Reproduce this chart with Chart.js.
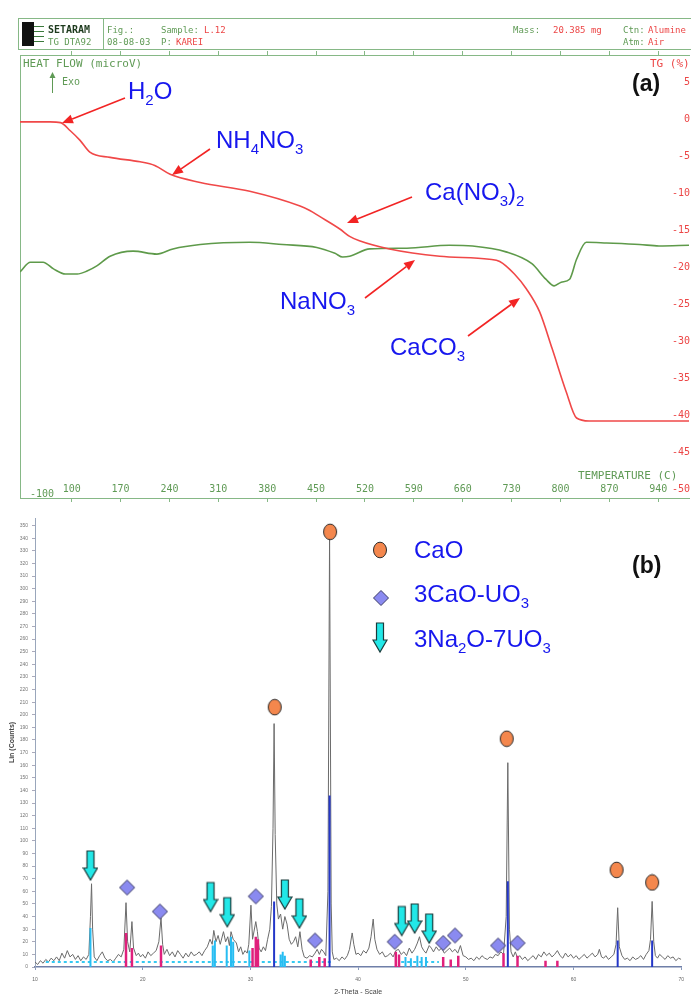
<!DOCTYPE html>
<html>
<head>
<meta charset="utf-8">
<script src="https://cdn.jsdelivr.net/npm/chart.js@4.4.0/dist/chart.umd.min.js"></script>
<style>
html, body { margin: 0; padding: 0; background: #fff; }
#wrap { position: relative; width: 691px; height: 996px; overflow: hidden; background: #fff; }
canvas { position: absolute; left: 0; }
#tga { top: 0; }
#xrd { top: 505px; }
</style>
</head>
<body>
<div id="wrap">
  <canvas id="tga" width="691" height="505" style="width:691px;height:505px"></canvas>
  <canvas id="xrd" width="691" height="491" style="width:691px;height:491px"></canvas>
</div>
<script>
// ---- (a) TG / DTA ----
const tempTicks = [100, 170, 240, 310, 380, 450, 520, 590, 660, 730, 800, 870, 940];
const tgTicks = [5, 0, -5, -10, -15, -20, -25, -30, -35, -40, -45, -50];

const tgTemp = [26, 69, 84, 98, 112, 126, 155, 198, 219, 241, 284, 355, 427, 441, 455, 484, 498, 512, 555, 627, 698, 713, 734, 751, 770, 788, 808, 823, 841, 900, 985];
const tgLoss = [-0.3, -0.3, -0.4, -1.5, -2.8, -4.4, -5.1, -5.7, -6.2, -7.4, -8.5, -9.7, -11.7, -12.3, -13.1, -14.8, -15.8, -16.4, -17.5, -18.5, -18.9, -19.2, -20.9, -22.9, -26.0, -31.0, -36.8, -40.4, -40.8, -40.8, -40.8];

// heat flow has no numbered axis, values are in the TG-axis units of the plot
const hfTemp = [26, 41, 59, 74, 91, 108, 122, 136, 155, 188, 222, 245, 284, 355, 402, 451, 477, 488, 498, 527, 580, 641, 674, 722, 759, 779, 791, 801, 813, 823, 837, 866, 913, 941, 984];
const hfSignal = [-20.6, -19.3, -19.3, -20.2, -20.9, -20.9, -20.5, -19.8, -18.5, -17.8, -18.2, -17.5, -16.9, -16.6, -16.9, -17.3, -18.1, -18.6, -18.5, -17.5, -17.4, -17.0, -17.1, -17.9, -19.5, -21.6, -22.5, -22.0, -21.6, -18.9, -16.6, -16.7, -16.9, -17.1, -17.0];

// ---- (b) XRD ----
const xrdScan = [
  [10.0,4],[10.25,2],[10.5,5],[10.75,3],[11.0,6],[11.25,4],[11.5,7],[11.75,5],[12.0,8],[12.25,5],
  [12.5,11],[12.75,7],[13.0,13],[13.25,8],[13.5,10],[13.75,6],[14.0,9],[14.25,5],[14.5,8],[14.75,6],
  [15.0,10],[15.15,40],[15.25,66],[15.35,30],[15.5,8],[15.75,5],[16.0,9],[16.25,12],[16.5,7],[16.75,5],
  [17.0,6],[17.25,4],[17.5,7],[17.75,10],[18.0,8],[18.25,14],[18.45,51],[18.6,20],[18.8,12],[19.0,36],
  [19.15,15],[19.4,9],[19.6,11],[19.8,8],[20.0,10],[20.25,7],[20.5,12],[20.75,9],[21.0,11],[21.25,13],
  [21.5,20],[21.7,39],[21.85,18],[22.0,10],[22.25,14],[22.5,9],[22.75,12],[23.0,8],[23.25,13],[23.5,10],
  [23.75,7],[24.0,11],[24.25,8],[24.5,12],[24.75,9],[25.0,10],[25.25,12],[25.5,9],[25.75,13],[26.0,16],
  [26.25,22],[26.45,18],[26.6,29],[26.8,20],[27.0,25],[27.2,18],[27.5,28],[27.7,20],[27.9,24],[28.05,17],
  [28.2,28],[28.4,22],[28.7,19],[28.9,12],[29.1,16],[29.3,10],[29.5,13],[29.7,11],[29.85,18],[30.05,49],
  [30.2,22],[30.5,36],[30.65,28],[30.8,15],[31.0,12],[31.2,16],[31.4,13],[31.6,22],[31.8,30],[31.95,48],
  [32.1,110],[32.2,193],[32.3,105],[32.45,50],[32.6,38],[32.8,42],[33.0,30],[33.2,40],[33.4,34],[33.6,22],
  [33.8,18],[34.0,20],[34.2,24],[34.4,16],[34.6,28],[34.8,14],[35.0,8],[35.25,7],[35.5,9],[35.75,8],
  [36.0,11],[36.2,14],[36.4,10],[36.6,14],[36.8,12],[37.0,9],[37.2,60],[37.35,342],[37.5,50],[37.6,12],
  [37.75,6],[38.0,7],[38.25,5],[38.5,8],[38.75,6],[39.0,9],[39.2,14],[39.45,27],[39.6,18],[39.8,10],
  [40.0,11],[40.25,9],[40.5,13],[40.75,11],[41.0,15],[41.2,24],[41.4,38],[41.55,22],[41.75,14],[42.0,10],
  [42.25,12],[42.5,8],[42.75,9],[43.0,11],[43.25,8],[43.5,13],[43.75,14],[44.0,10],[44.25,12],[44.5,9],
  [44.75,15],[45.0,11],[45.25,14],[45.5,19],[45.7,24],[45.9,16],[46.1,13],[46.3,11],[46.6,17],[46.8,15],
  [47.0,12],[47.25,16],[47.5,13],[47.75,15],[48.0,11],[48.25,13],[48.5,15],[48.75,12],[49.0,14],[49.25,11],
  [49.5,17],[49.75,9],[50.0,8],[50.25,6],[50.5,7],[50.75,5],[51.0,8],[51.25,6],[51.5,9],[51.75,7],
  [52.0,6],[52.25,8],[52.5,7],[52.75,10],[53.0,9],[53.25,12],[53.5,10],[53.75,40],[53.9,162],[54.05,30],
  [54.2,12],[54.4,8],[54.6,12],[54.8,7],[55.0,9],[55.25,6],[55.5,8],[55.75,5],[56.0,7],[56.25,9],
  [56.5,6],[56.75,10],[57.0,8],[57.25,12],[57.5,9],[57.75,11],[58.0,8],[58.25,10],[58.5,13],[58.75,9],
  [59.0,7],[59.25,11],[59.5,8],[59.75,10],[60.0,7],[60.25,9],[60.5,6],[60.75,8],[61.0,10],[61.25,7],
  [61.5,9],[61.75,11],[62.0,8],[62.25,10],[62.4,14],[62.6,8],[62.8,7],[63.0,9],[63.25,6],[63.5,8],
  [63.75,10],[63.95,18],[64.1,47],[64.25,16],[64.5,9],[64.75,6],[65.0,7],[65.25,5],[65.5,8],[65.75,6],
  [66.0,7],[66.25,9],[66.5,6],[66.75,10],[67.0,13],[67.15,22],[67.3,52],[67.45,20],[67.6,9],[67.8,7],
  [68.0,10],[68.25,8],[68.5,6],[68.75,9],[69.0,7],[69.25,8],[69.5,5],[69.75,7],[70.0,6]
];

// reference stick patterns
const caoStickAngle = [32.2, 37.35, 53.9, 64.1, 67.3];
const caoStickCounts = [52, 136, 68, 21, 21];
const cauStickAngle = [18.45, 19.0, 21.7, 30.2, 30.5, 30.7, 35.6, 36.4, 36.9, 43.5, 43.8, 47.9, 48.6, 49.3, 53.5, 54.8, 57.4, 58.5];
const cauStickCounts = [27, 15, 17, 15, 24, 22, 6, 8, 7, 12, 10, 8, 6, 9, 11, 9, 5, 5];
const nauStickAngle = [15.15, 26.5, 26.7, 27.8, 28.2, 28.4, 29.9, 32.8, 33.0, 33.2, 44.4, 44.9, 45.5, 45.9, 46.3];
const nauStickCounts = [31, 17, 21, 17, 24, 20, 13, 10, 12, 9, 8, 7, 9, 8, 8];
const nauBaseFrom = [11, 44];
const nauBaseTo = [37.5, 47.5];
const nauBaseLevel = 4;

// phase markers
const caoMarkAngle = [32.26, 37.4, 53.8, 64.0, 67.3];
const caoMarkCounts = [206, 345, 181, 77, 67];
const cauMarkAngle = [18.55, 21.6, 30.5, 36.0, 43.4, 47.9, 49.0, 53.0, 54.8];
const cauMarkCounts = [63, 44, 56, 21, 20, 19, 25, 17, 19];
const nauMarkAngle = [15.15, 26.3, 27.85, 33.2, 34.55, 44.05, 45.25, 46.6];
const nauMarkCounts = [69, 44, 32, 46, 31, 25, 27, 19];

const GREEN = '#5f9a55';
const GREEN_LINE = '#86b886';
const RED_TXT = '#ec4646';
const MONO = '"DejaVu Sans Mono", "Liberation Mono", monospace';
const SANS = '"Liberation Sans", Arial, sans-serif';
const BLUE_TXT = '#1717ee';

function pairs(xs, ys) { return xs.map((x, i) => ({ x: x, y: ys[i] })); }

function sticks(xs, ys) {
    const out = [];
    xs.forEach((x, i) => { out.push({ x: x, y: 0 }, { x: x, y: ys[i] }, { x: x, y: null }); });
    return out;
}

// marker images
function makeOval() {
    const c = document.createElement('canvas'); c.width = 16; c.height = 18;
    const g = c.getContext('2d');
    g.beginPath(); g.ellipse(8, 9, 6.5, 7.8, 0, 0, Math.PI * 2);
    g.fillStyle = '#f4874d'; g.fill();
    g.lineWidth = 1; g.strokeStyle = '#2a2a2a'; g.stroke();
    return c;
}
function makeDiamond() {
    const c = document.createElement('canvas'); c.width = 18; c.height = 18;
    const g = c.getContext('2d');
    g.beginPath(); g.moveTo(9, 1.5); g.lineTo(16.5, 9); g.lineTo(9, 16.5); g.lineTo(1.5, 9); g.closePath();
    g.fillStyle = '#8a8af0'; g.fill();
    g.lineWidth = 1; g.strokeStyle = '#3a3a66'; g.stroke();
    return c;
}
function makeDownArrow() {
    // tip sits at the canvas centre so the data point is the arrow tip
    const c = document.createElement('canvas'); c.width = 16; c.height = 62;
    const g = c.getContext('2d');
    g.beginPath();
    g.moveTo(4.5, 2); g.lineTo(11.5, 2); g.lineTo(11.5, 19); g.lineTo(15, 19);
    g.lineTo(8, 31); g.lineTo(1, 19); g.lineTo(4.5, 19); g.closePath();
    g.fillStyle = '#22e8e8'; g.fill();
    g.lineWidth = 1.2; g.strokeStyle = '#1b3b3b'; g.stroke();
    return c;
}
const ovalImg = makeOval();
const diamondImg = makeDiamond();
const arrowImg = makeDownArrow();

function drawChem(ctx, x, y, text, size, color) {
    let cx = x;
    ctx.fillStyle = color;
    ctx.textAlign = 'left';
    ctx.textBaseline = 'alphabetic';
    text.split('|').forEach(p => {
        const sub = p.startsWith('_');
        const t = sub ? p.slice(1) : p;
        ctx.font = (sub ? Math.round(size * 0.62) : size) + 'px ' + SANS;
        ctx.fillText(t, cx, sub ? y + size * 0.24 : y);
        cx += ctx.measureText(t).width;
    });
}

function redArrow(ctx, x1, y1, x2, y2) {
    const a = Math.atan2(y2 - y1, x2 - x1), hl = 11, hw = 4.5;
    const bx = x2 - hl * Math.cos(a), by = y2 - hl * Math.sin(a);
    ctx.strokeStyle = '#f22424'; ctx.fillStyle = '#f22424'; ctx.lineWidth = 1.6;
    ctx.beginPath(); ctx.moveTo(x1, y1); ctx.lineTo(bx, by); ctx.stroke();
    ctx.beginPath(); ctx.moveTo(x2, y2);
    ctx.lineTo(bx + hw * Math.sin(a), by - hw * Math.cos(a));
    ctx.lineTo(bx - hw * Math.sin(a), by + hw * Math.cos(a));
    ctx.closePath(); ctx.fill();
}

function monoText(ctx, t, x, y, color, size, align) {
    ctx.font = size + 'px ' + MONO;
    ctx.fillStyle = color;
    ctx.textAlign = align || 'left';
    ctx.textBaseline = 'alphabetic';
    ctx.fillText(t, x, y);
}

// texts and header of the instrument plot
const decorA = {
    id: 'decorA',
    afterDraw(chart) {
        const ctx = chart.ctx;
        const xs = chart.scales.x;
        ctx.save();

        // header box
        ctx.strokeStyle = GREEN_LINE; ctx.lineWidth = 1;
        ctx.strokeRect(18.5, 18.5, 690, 31);
        ctx.beginPath(); ctx.moveTo(103.5, 18); ctx.lineTo(103.5, 50); ctx.stroke();
        ctx.fillStyle = '#111';
        ctx.fillRect(22, 22, 12, 24);
        ctx.strokeStyle = '#3c7a3c';
        [26, 31, 36, 41].forEach(y => { ctx.beginPath(); ctx.moveTo(34, y + 0.5); ctx.lineTo(44, y + 0.5); ctx.stroke(); });

        ctx.font = 'bold 10px ' + MONO; ctx.fillStyle = '#1d3a1d'; ctx.textAlign = 'left';
        ctx.fillText('SETARAM', 48, 33);
        monoText(ctx, 'TG DTA92', 48, 45, GREEN, 9);
        monoText(ctx, 'Fig.:', 107, 33, GREEN, 9);
        monoText(ctx, '08-08-03', 107, 45, GREEN, 9);
        monoText(ctx, 'Sample:', 161, 33, GREEN, 9);
        monoText(ctx, 'L.12', 204, 33, RED_TXT, 9);
        monoText(ctx, 'P:', 161, 45, GREEN, 9);
        monoText(ctx, 'KAREI', 176, 45, RED_TXT, 9);
        monoText(ctx, 'Mass:', 513, 33, GREEN, 9);
        monoText(ctx, '20.385 mg', 553, 33, RED_TXT, 9);
        monoText(ctx, 'Ctn:', 623, 33, GREEN, 9);
        monoText(ctx, 'Alumine', 648, 33, RED_TXT, 9);
        monoText(ctx, 'Atm:', 623, 45, GREEN, 9);
        monoText(ctx, 'Air', 648, 45, RED_TXT, 9);

        // axis captions
        monoText(ctx, 'HEAT FLOW (microV)', 23, 67, GREEN, 11);
        monoText(ctx, 'TG (%)', 650, 67, RED_TXT, 11);
        monoText(ctx, 'Exo', 62, 85, GREEN, 10);
        ctx.strokeStyle = GREEN; ctx.fillStyle = GREEN; ctx.lineWidth = 1;
        ctx.beginPath(); ctx.moveTo(52.5, 93); ctx.lineTo(52.5, 74); ctx.stroke();
        ctx.beginPath(); ctx.moveTo(52.5, 72); ctx.lineTo(49.5, 78); ctx.lineTo(55.5, 78); ctx.closePath(); ctx.fill();
        monoText(ctx, 'TEMPERATURE (C)', 578, 479, GREEN, 11);

        // temperature tick labels sit inside the frame
        tempTicks.forEach(t => monoText(ctx, String(t), xs.getPixelForValue(t), 492, GREEN, 10, 'center'));
        monoText(ctx, '-100', 42, 497, GREEN, 10, 'center');

        // species annotations
        drawChem(ctx, 128, 99, 'H|_2|O', 24, BLUE_TXT);
        drawChem(ctx, 216, 148, 'NH|_4|NO|_3', 24, BLUE_TXT);
        drawChem(ctx, 425, 200, 'Ca(NO|_3|)|_2', 24, BLUE_TXT);
        drawChem(ctx, 280, 309, 'NaNO|_3', 24, BLUE_TXT);
        drawChem(ctx, 390, 355, 'CaCO|_3', 24, BLUE_TXT);
        redArrow(ctx, 125, 98, 62, 123);
        redArrow(ctx, 210, 149, 172, 175);
        redArrow(ctx, 412, 197, 347, 223);
        redArrow(ctx, 365, 298, 415, 260);
        redArrow(ctx, 468, 336, 520, 298);

        ctx.font = 'bold 23px ' + SANS; ctx.fillStyle = '#111'; ctx.textAlign = 'left';
        ctx.fillText('(a)', 632, 91);
        ctx.restore();
    }
};

const tickSetter = s => { s.ticks = tempTicks.map(v => ({ value: v })); };

new Chart(document.getElementById('tga'), {
    type: 'line',
    data: {
        datasets: [
            { label: 'TG', data: pairs(tgTemp, tgLoss), yAxisID: 'yTG', borderColor: '#f04848', borderWidth: 1.6, pointRadius: 0, cubicInterpolationMode: 'monotone' },
            { label: 'Heat flow', data: pairs(hfTemp, hfSignal), yAxisID: 'yHF', borderColor: '#5e9a4a', borderWidth: 1.6, pointRadius: 0, cubicInterpolationMode: 'monotone' }
        ]
    },
    options: {
        responsive: false,
        animation: false,
        devicePixelRatio: 1,
        layout: { padding: { top: 51, left: 20, right: 0, bottom: 1 } },
        plugins: { legend: { display: false }, tooltip: { enabled: false } },
        scales: {
            x: {
                type: 'linear', min: 26, max: 984, afterBuildTicks: tickSetter,
                ticks: { display: false },
                grid: { drawOnChartArea: false, tickLength: 4, color: GREEN_LINE },
                border: { color: GREEN_LINE }
            },
            xTop: {
                type: 'linear', position: 'top', min: 26, max: 984, afterBuildTicks: tickSetter,
                ticks: { display: false },
                grid: { drawOnChartArea: false, tickLength: 4, color: GREEN_LINE },
                border: { color: GREEN_LINE }
            },
            yHF: {
                position: 'left', min: -51.23, max: 8.76,
                ticks: { display: false },
                grid: { drawOnChartArea: false, drawTicks: false },
                border: { color: GREEN_LINE }
            },
            yTG: {
                position: 'right', min: -51.23, max: 8.76,
                afterBuildTicks: s => { s.ticks = tgTicks.map(v => ({ value: v })); },
                ticks: { mirror: true, padding: 1, color: RED_TXT, font: { family: MONO, size: 10 } },
                grid: { display: false, drawTicks: false },
                border: { display: false }
            }
        }
    },
    plugins: [decorA]
});

// legend and panel letter of the XRD plot
const decorB = {
    id: 'decorB',
    afterDraw(chart) {
        const ctx = chart.ctx;
        ctx.save();
        ctx.drawImage(ovalImg, 380 - 8, 45 - 9);
        ctx.drawImage(diamondImg, 381 - 9, 93 - 9);
        ctx.drawImage(arrowImg, 380 - 8, 147 - 31);
        drawChem(ctx, 414, 53, 'CaO', 24, BLUE_TXT);
        drawChem(ctx, 414, 97, '3CaO-UO|_3', 24, BLUE_TXT);
        drawChem(ctx, 414, 142, '3Na|_2|O-7UO|_3', 24, BLUE_TXT);
        ctx.font = 'bold 23px ' + SANS; ctx.fillStyle = '#111'; ctx.textAlign = 'left';
        ctx.fillText('(b)', 632, 68);
        ctx.restore();
    }
};

const xrdData = xrdScan.map(p => ({ x: p[0], y: p[1] }));
const nauBase = [];
nauBaseFrom.forEach((f, i) => { nauBase.push({ x: f, y: nauBaseLevel }, { x: nauBaseTo[i], y: nauBaseLevel }, { x: nauBaseTo[i], y: null }); });

new Chart(document.getElementById('xrd'), {
    type: 'line',
    data: {
        datasets: [
            { label: 'CaO', data: pairs(caoMarkAngle, caoMarkCounts), showLine: false, pointStyle: ovalImg, pointRadius: 6, order: 0 },
            { label: '3CaO-UO3', data: pairs(cauMarkAngle, cauMarkCounts), showLine: false, pointStyle: diamondImg, pointRadius: 6, order: 0 },
            { label: '3Na2O-7UO3', data: pairs(nauMarkAngle, nauMarkCounts), showLine: false, pointStyle: arrowImg, pointRadius: 6, order: 0 },
            { label: 'CaO ref', data: sticks(caoStickAngle, caoStickCounts), borderColor: '#2437c8', borderWidth: 2, pointRadius: 0, spanGaps: false, order: 1 },
            { label: '3CaO-UO3 ref', data: sticks(cauStickAngle, cauStickCounts), borderColor: '#e0207c', borderWidth: 2.5, pointRadius: 0, spanGaps: false, order: 1 },
            { label: '3Na2O-7UO3 ref', data: sticks(nauStickAngle, nauStickCounts), borderColor: '#27bdf2', borderWidth: 2, pointRadius: 0, spanGaps: false, order: 1 },
            { label: 'baseline ref', data: nauBase, borderColor: '#35c9f2', borderWidth: 2, borderDash: [3, 3], pointRadius: 0, spanGaps: false, order: 1 },
            { label: 'scan', data: xrdData, borderColor: '#6b6b6b', borderWidth: 1, pointRadius: 0, tension: 0, order: 2 }
        ]
    },
    options: {
        responsive: false,
        animation: false,
        devicePixelRatio: 1,
        layout: { padding: { top: 13, left: 0, right: 4, bottom: 0 } },
        plugins: { legend: { display: false }, tooltip: { enabled: false } },
        scales: {
            x: {
                type: 'linear', min: 10, max: 70,
                ticks: { stepSize: 10, color: '#666', font: { size: 5 }, padding: 7 },
                grid: { drawOnChartArea: false, tickLength: 3, color: '#8899bb' },
                border: { color: '#6f7fa8', width: 1.5 },
                title: { display: true, text: '2-Theta - Scale', color: '#444', font: { size: 7 }, padding: { top: 0, bottom: 0 } },
                afterFit: s => { s.height = 29; }
            },
            y: {
                min: 0, max: 356,
                ticks: { stepSize: 10, includeBounds: false, autoSkip: false, color: '#777', font: { size: 5 }, padding: 4 },
                grid: { drawOnChartArea: false, tickLength: 3, color: '#aab' },
                border: { color: '#99a6bb' },
                title: { display: true, text: 'Lin (Counts)', color: '#444', font: { size: 7, weight: 'bold' }, padding: { top: 8, bottom: 0 } },
                afterFit: s => { s.width = 35; }
            }
        }
    },
    plugins: [decorB]
});
</script>
</body>
</html>
